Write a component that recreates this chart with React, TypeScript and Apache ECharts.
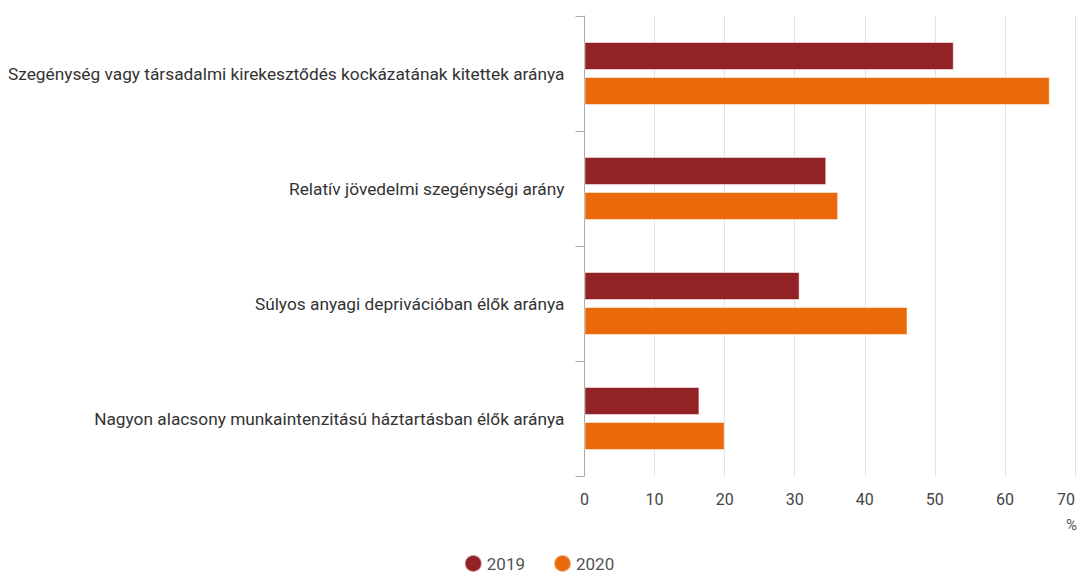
import React, { useEffect, useRef } from "react";
import * as echarts from "echarts";

const categories = [
  "Szegénység vagy társadalmi kirekesztődés kockázatának kitettek aránya",
  "Relatív jövedelmi szegénységi arány",
  "Súlyos anyagi deprivációban élők aránya",
  "Nagyon alacsony munkaintenzitású háztartásban élők aránya",
];
const values2019 = [52.7, 34.5, 30.7, 16.4];
const values2020 = [66.4, 36.2, 46.1, 20.0];
const seriesNames = ["2019", "2020"];
const unitLabel = "%";

export default function App() {
  const ref = useRef<HTMLDivElement>(null);
  useEffect(() => {
    if (!ref.current) return;
    const chart = echarts.init(ref.current, null, { renderer: "svg" });
    const font = "Roboto, 'Noto Sans', sans-serif";
    chart.setOption({
      animation: false,
      textStyle: { fontFamily: font },
      grid: { left: 584.5, top: 16, width: 495, height: 460, containLabel: false },
      legend: {
        top: 549,
        left: "center",
        icon: "circle",
        itemWidth: 17,
        itemHeight: 17,
        itemGap: 28,
        textStyle: { fontSize: 17, color: "#555", fontFamily: font },
        data: seriesNames,
      },
      xAxis: {
        type: "value",
        min: 0,
        max: 70,
        interval: 10,
        axisLine: { show: false },
        axisTick: { show: false },
        splitLine: { lineStyle: { color: "#e3e3e3", width: 1 } },
        axisLabel: { fontSize: 16, color: "#444", margin: 15, alignMaxLabel: "right", fontFamily: font },
      },
      yAxis: {
        type: "category",
        inverse: true,
        data: categories,
        axisLine: { show: true, lineStyle: { color: "#aaa" } },
        axisTick: { show: true, length: 9, lineStyle: { color: "#aaa" } },
        axisLabel: { fontSize: 17.3, color: "#333", margin: 20, fontFamily: font },
      },
      graphic: [
        {
          type: "text",
          right: 1,
          top: 517,
          style: { text: unitLabel, fontSize: 15, fill: "#555", fontFamily: font },
        },
      ],
      series: [
        {
          name: seriesNames[0],
          type: "bar",
          data: values2019,
          barWidth: 28,
          barGap: "25%",
          itemStyle: { color: "#922226", borderColor: "rgba(255,255,255,0.5)", borderWidth: 1 },
        },
        {
          name: seriesNames[1],
          type: "bar",
          data: values2020,
          barWidth: 28,
          barGap: "25%",
          itemStyle: { color: "#EA690B", borderColor: "rgba(255,255,255,0.5)", borderWidth: 1 },
        },
      ],
    });
    return () => chart.dispose();
  }, []);
  return (
    <div
      ref={ref}
      style={{ position: "fixed", left: 0, top: 0, width: 1078, height: 574, background: "#fff" }}
    />
  );
}
